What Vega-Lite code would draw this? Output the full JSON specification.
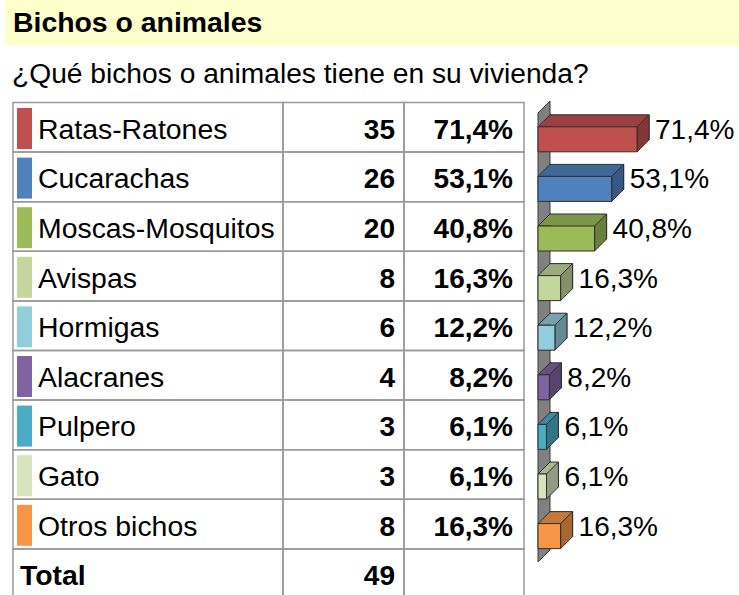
{
  "$schema": "https://vega.github.io/schema/vega-lite/v6.json",
  "width": 739,
  "height": 595,
  "autosize": {"type": "none"},
  "padding": 0,
  "background": "white",
  "config": {
    "view": {"stroke": null},
    "font": "Liberation Sans",
    "locale": {"number": {"decimal": ",", "thousands": ".", "grouping": [3], "currency": ["", "%"]}}
  },
  "data": {
    "values": [
      {"name": "Ratas-Ratones", "count": 35, "pct": 71.4},
      {"name": "Cucarachas", "count": 26, "pct": 53.1},
      {"name": "Moscas-Mosquitos", "count": 20, "pct": 40.8},
      {"name": "Avispas", "count": 8, "pct": 16.3},
      {"name": "Hormigas", "count": 6, "pct": 12.2},
      {"name": "Alacranes", "count": 4, "pct": 8.2},
      {"name": "Pulpero", "count": 3, "pct": 6.1},
      {"name": "Gato", "count": 3, "pct": 6.1},
      {"name": "Otros bichos", "count": 8, "pct": 16.3},
      {"name": "Total", "count": 49, "pct": null}
    ]
  },
  "resolve": {"scale": {"fill": "independent"}},
  "layer": [
    {
      "data": {"values": [{"title": "Bichos o animales"}]},
      "mark": {"type": "rect", "fill": "#FFFFCC"},
      "encoding": {"x": {"value": 5}, "x2": {"value": 739}, "y": {"value": 0}, "y2": {"value": 45.5}}
    },
    {
      "data": {"values": [{"title": "Bichos o animales"}]},
      "mark": {"type": "text", "align": "left", "baseline": "alphabetic", "fontSize": 28.4, "fontWeight": "bold", "font": "Liberation Sans", "color": "#000000"},
      "encoding": {"x": {"value": 13}, "y": {"value": 32}, "text": {"field": "title"}}
    },
    {
      "data": {"values": [{"subtitle": "¿Qué bichos o animales tiene en su vivienda?"}]},
      "mark": {"type": "text", "align": "left", "baseline": "alphabetic", "fontSize": 28.2, "font": "Liberation Sans", "color": "#000000"},
      "encoding": {"x": {"value": 12}, "y": {"value": 83}, "text": {"field": "subtitle"}}
    },
    {
      "mark": {"type": "rect", "fill": "white", "fillOpacity": 0, "stroke": "#999999", "strokeWidth": 1.5},
      "encoding": {
        "y": {"field": "name", "type": "nominal", "axis": null,
          "scale": {"type": "band", "domain": ["Ratas-Ratones", "Cucarachas", "Moscas-Mosquitos", "Avispas", "Hormigas", "Alacranes", "Pulpero", "Gato", "Otros bichos", "Total"], "range": [102.5, 598.5], "paddingInner": 0, "paddingOuter": 0}},
        "x": {"value": 13}, "x2": {"value": 283}
      }
    },
    {
      "mark": {"type": "rect", "fill": "white", "fillOpacity": 0, "stroke": "#999999", "strokeWidth": 1.5},
      "encoding": {"y": {"field": "name", "type": "nominal", "axis": null}, "x": {"value": 283}, "x2": {"value": 404}}
    },
    {
      "mark": {"type": "rect", "fill": "white", "fillOpacity": 0, "stroke": "#999999", "strokeWidth": 1.5},
      "encoding": {"y": {"field": "name", "type": "nominal", "axis": null}, "x": {"value": 404}, "x2": {"value": 524}}
    },
    {
      "transform": [{"filter": "datum.name !== 'Total'"}],
      "mark": {"type": "point", "shape": "M0,-19.3L15,-19.3L15,21.7L0,21.7Z", "size": 4, "filled": true, "opacity": 1, "strokeWidth": 0},
      "encoding": {
        "y": {"field": "name", "type": "nominal", "axis": null},
        "x": {"value": 17},
        "fill": {"field": "name", "type": "nominal", "legend": null,
          "scale": {"domain": ["Ratas-Ratones", "Cucarachas", "Moscas-Mosquitos", "Avispas", "Hormigas", "Alacranes", "Pulpero", "Gato", "Otros bichos"],
            "range": ["#C0504D", "#4F81BD", "#9BBB59", "#C3D69B", "#92CDDC", "#8064A2", "#4BACC6", "#D7E4BD", "#F79646"]}}
      }
    },
    {
      "transform": [{"filter": "datum.name !== 'Total'"}],
      "mark": {"type": "text", "align": "left", "baseline": "alphabetic", "dy": 11.5, "fontSize": 28.4, "font": "Liberation Sans", "color": "#000000"},
      "encoding": {"y": {"field": "name", "type": "nominal", "axis": null}, "x": {"value": 38}, "text": {"field": "name"}}
    },
    {
      "transform": [{"filter": "datum.name === 'Total'"}],
      "mark": {"type": "text", "align": "left", "baseline": "alphabetic", "dy": 11.5, "fontSize": 28.4, "fontWeight": "bold", "font": "Liberation Sans", "color": "#000000"},
      "encoding": {"y": {"field": "name", "type": "nominal", "axis": null}, "x": {"value": 20}, "text": {"field": "name"}}
    },
    {
      "mark": {"type": "text", "align": "right", "baseline": "alphabetic", "dy": 11.5, "fontSize": 28, "fontWeight": "bold", "font": "Liberation Sans", "color": "#000000"},
      "encoding": {"y": {"field": "name", "type": "nominal", "axis": null}, "x": {"value": 395}, "text": {"field": "count", "type": "quantitative"}}
    },
    {
      "transform": [{"filter": "datum.name !== 'Total'"}],
      "mark": {"type": "text", "align": "right", "baseline": "alphabetic", "dy": 11.5, "fontSize": 28, "fontWeight": "bold", "font": "Liberation Sans", "color": "#000000"},
      "encoding": {"y": {"field": "name", "type": "nominal", "axis": null}, "x": {"value": 513}, "text": {"field": "pct", "type": "quantitative", "format": "$.1f"}}
    },
    {
      "data": {"values": [{"wall": "pared"}]},
      "mark": {"type": "point", "shape": "M0,-14.3L12,-26.3L12,422.7L0,434.7Z", "size": 4, "filled": true, "opacity": 1, "fill": "#808080", "stroke": "#3a3a3a", "strokeWidth": 1},
      "encoding": {
        "x": {"datum": 0, "type": "quantitative", "axis": null},
        "y": {"datum": "Ratas-Ratones", "type": "nominal", "axis": null}
      }
    },
    {
      "transform": [{"filter": "datum.name !== 'Total'"}],
      "mark": {"type": "bar", "size": 25, "xOffset": 12, "x2Offset": 12, "stroke": "#2e2e2e", "strokeWidth": 1},
      "encoding": {
        "y": {"field": "name", "type": "nominal", "axis": null},
        "x": {"field": "pct", "type": "quantitative", "axis": null, "scale": {"domain": [0, 100], "range": [538, 676.7], "nice": false, "zero": true}},
        "fill": {"field": "name", "type": "nominal", "legend": null,
          "scale": {"domain": ["Ratas-Ratones", "Cucarachas", "Moscas-Mosquitos", "Avispas", "Hormigas", "Alacranes", "Pulpero", "Gato", "Otros bichos"],
            "range": ["#9A403E", "#3F6797", "#7C9647", "#9CAB7C", "#75A4B0", "#665082", "#3C8A9E", "#ACB697", "#C67838"]}}
      }
    },
    {
      "transform": [{"filter": "datum.name !== 'Total'"}],
      "mark": {"type": "point", "shape": "M13,-0.5L0,-0.5L12,-12.5L13,-12.5", "size": 4, "filled": true, "opacity": 1, "stroke": "#2e2e2e", "strokeWidth": 1},
      "encoding": {
        "y": {"field": "name", "type": "nominal", "axis": null},
        "x": {"datum": 0, "type": "quantitative", "axis": null},
        "fill": {"field": "name", "type": "nominal", "legend": null,
          "scale": {"domain": ["Ratas-Ratones", "Cucarachas", "Moscas-Mosquitos", "Avispas", "Hormigas", "Alacranes", "Pulpero", "Gato", "Otros bichos"],
            "range": ["#9A403E", "#3F6797", "#7C9647", "#9CAB7C", "#75A4B0", "#665082", "#3C8A9E", "#ACB697", "#C67838"]}}
      }
    },
    {
      "transform": [{"filter": "datum.name !== 'Total'"}],
      "mark": {"type": "point", "shape": "M0,-0.5L12,-12.5L12,12.5L0,24.5Z", "size": 4, "filled": true, "opacity": 1, "stroke": "#2e2e2e", "strokeWidth": 1},
      "encoding": {
        "y": {"field": "name", "type": "nominal", "axis": null},
        "x": {"field": "pct", "type": "quantitative", "axis": null},
        "fill": {"field": "name", "type": "nominal", "legend": null,
          "scale": {"domain": ["Ratas-Ratones", "Cucarachas", "Moscas-Mosquitos", "Avispas", "Hormigas", "Alacranes", "Pulpero", "Gato", "Otros bichos"],
            "range": ["#833634", "#365881", "#697F3D", "#859269", "#638B96", "#57446E", "#337587", "#929B81", "#A86630"]}}
      }
    },
    {
      "transform": [{"filter": "datum.name !== 'Total'"}],
      "mark": {"type": "bar", "size": 25, "yOffset": 12, "stroke": "#2e2e2e", "strokeWidth": 1},
      "encoding": {
        "y": {"field": "name", "type": "nominal", "axis": null},
        "x": {"field": "pct", "type": "quantitative", "axis": null},
        "fill": {"field": "name", "type": "nominal", "legend": null,
          "scale": {"domain": ["Ratas-Ratones", "Cucarachas", "Moscas-Mosquitos", "Avispas", "Hormigas", "Alacranes", "Pulpero", "Gato", "Otros bichos"],
            "range": ["#C0504D", "#4F81BD", "#9BBB59", "#C3D69B", "#92CDDC", "#8064A2", "#4BACC6", "#D7E4BD", "#F79646"]}}
      }
    },
    {
      "transform": [{"filter": "datum.name !== 'Total'"}],
      "mark": {"type": "text", "align": "left", "baseline": "alphabetic", "dx": 18, "dy": 11.5, "fontSize": 28, "font": "Liberation Sans", "color": "#000000"},
      "encoding": {
        "y": {"field": "name", "type": "nominal", "axis": null},
        "x": {"field": "pct", "type": "quantitative", "axis": null},
        "text": {"field": "pct", "type": "quantitative", "format": "$.1f"}
      }
    }
  ]
}
